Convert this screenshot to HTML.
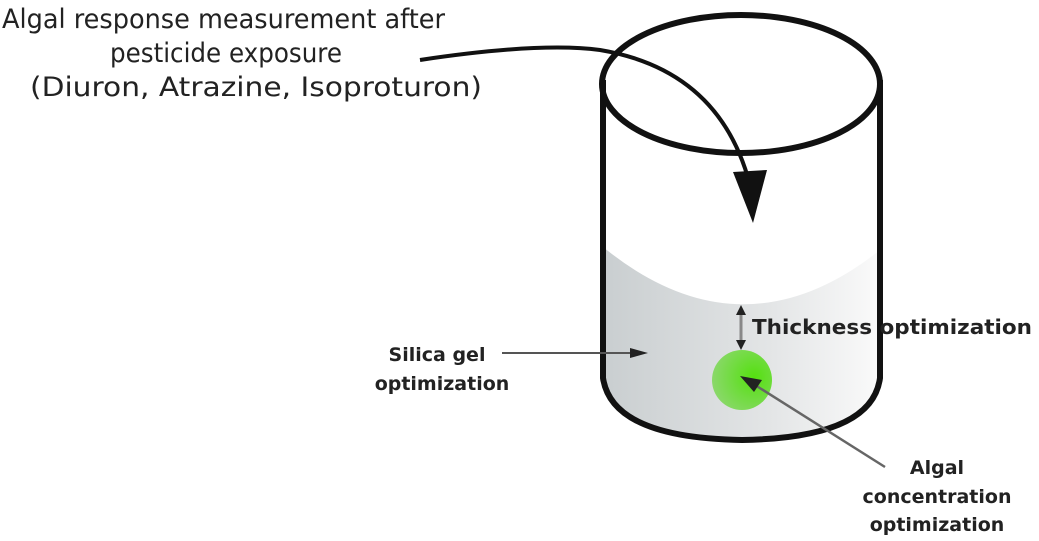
<!DOCTYPE html>
<html><head><style>
body{margin:0;background:#fff;}
svg{display:block}
text{font-family:"DejaVu Sans","Liberation Sans",sans-serif;fill:#222;}
</style></head><body>
<svg width="1039" height="541" viewBox="0 0 1039 541">
<defs>
<linearGradient id="g" x1="0" x2="1" y1="0" y2="0">
<stop offset="0" stop-color="#c9ced0"/><stop offset="0.6" stop-color="#e3e5e6"/><stop offset="1" stop-color="#fafafa"/>
</linearGradient>
<radialGradient id="gr" cx="0.7" cy="0.45" r="0.7">
<stop offset="0" stop-color="#55e010"/><stop offset="1" stop-color="#8ad86a"/>
</radialGradient>
</defs>
<path d="M603,247 Q742,360 880,250 L880,378 Q860,440 742,440 Q620,440 603,378 Z" fill="url(#g)"/>
<path d="M603,80 L603,378 Q612,438 742,440 Q872,438 880,378 L880,80" fill="none" stroke="#111" stroke-width="6"/>
<ellipse cx="741" cy="84" rx="139" ry="69" fill="none" stroke="#111" stroke-width="6"/>
<path d="M420,60 Q540,42 600,50 Q720,70 750,185" fill="none" stroke="#111" stroke-width="4"/>
<polygon points="733,172 767,170 753,223" fill="#111"/>
<circle cx="742" cy="380" r="30" fill="url(#gr)"/>
<line x1="741" y1="312" x2="741" y2="342" stroke="#888" stroke-width="3"/>
<polygon points="736,315 746,315 741,305" fill="#222"/>
<polygon points="736,340 746,340 741,350" fill="#222"/>
<line x1="502" y1="353" x2="632" y2="353" stroke="#555" stroke-width="2"/>
<polygon points="630,348 648,353 630,358" fill="#222"/>
<line x1="885" y1="467" x2="755" y2="385" stroke="#666" stroke-width="2.5"/>
<polygon points="740,376 762,380 754,392" fill="#222"/>
<text x="2" y="28" font-size="27" textLength="443" lengthAdjust="spacingAndGlyphs">Algal response measurement after</text>
<text x="110" y="62" font-size="27" textLength="232" lengthAdjust="spacingAndGlyphs">pesticide exposure</text>
<text x="30" y="96" font-size="27" textLength="452" lengthAdjust="spacingAndGlyphs">(Diuron, Atrazine, Isoproturon)</text>
<text x="437" y="361" font-size="19" text-anchor="middle" font-weight="bold">Silica gel</text>
<text x="442" y="390" font-size="19" text-anchor="middle" font-weight="bold">optimization</text>
<text x="752" y="334" font-size="20" font-weight="bold" textLength="280" lengthAdjust="spacingAndGlyphs">Thickness optimization</text>
<text x="937" y="474" font-size="19" text-anchor="middle" font-weight="bold">Algal</text>
<text x="937" y="503" font-size="19" text-anchor="middle" font-weight="bold">concentration</text>
<text x="937" y="531" font-size="19" text-anchor="middle" font-weight="bold">optimization</text>
</svg>
</body></html>
